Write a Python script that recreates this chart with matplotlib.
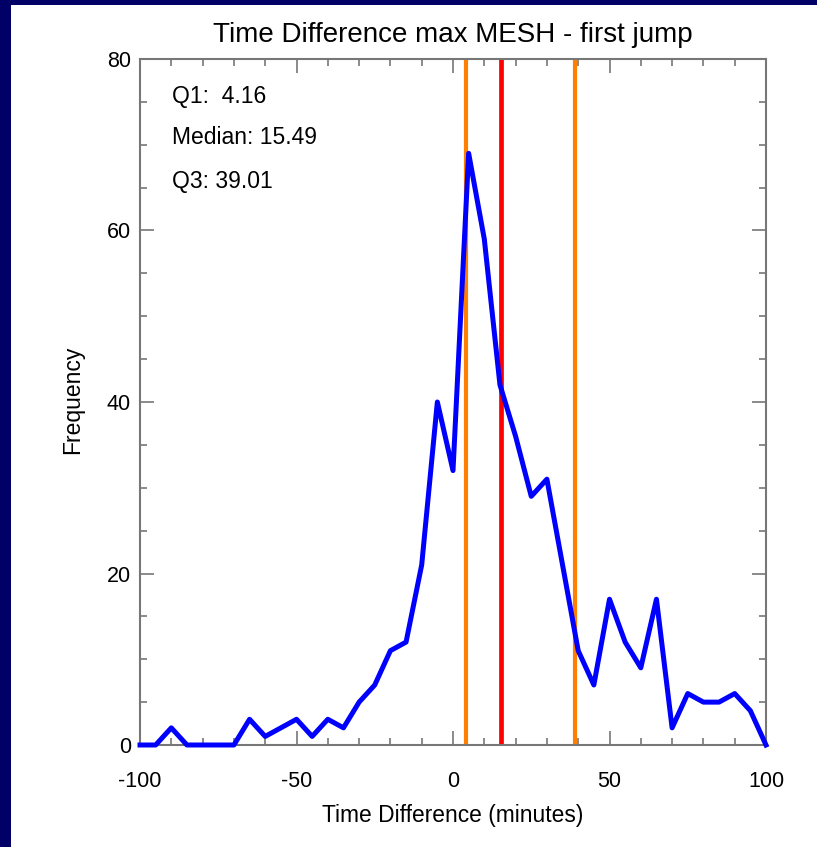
import numpy as np
import matplotlib
matplotlib.use("Agg")
import matplotlib.pyplot as plt
from matplotlib.patches import Rectangle

# histogram of time differences (minutes), 5 minute bins
time_diff = np.arange(-100, 101, 5)
frequency = [0, 0, 2, 0, 0, 0, 0, 3, 1, 2,
             3, 1, 3, 2, 5, 7, 11, 12, 21, 40,
             32, 69, 59, 42, 36, 29, 31, 21, 11, 7,
             17, 12, 9, 17, 2, 6, 5, 5, 6, 4, 0]

q1 = 4.16
median = 15.49
q3 = 39.01

plt.rcParams['font.family'] = ['Liberation Sans', 'DejaVu Sans']
plt.rcParams['axes.unicode_minus'] = False

W, H = 817, 847
fig = plt.figure(figsize=(W / 100, H / 100), dpi=100, facecolor='#000066')
# white panel inside the navy frame
fig.patches.append(Rectangle((11 / W, 0), 1, 1 - 5 / H, transform=fig.transFigure,
                             facecolor='white', edgecolor='none', zorder=-10))

ax = fig.add_axes([140 / W, 102 / H, 626 / W, 686 / H])
ax.plot(time_diff, frequency, color='#0000ff', lw=3.6, zorder=3, clip_on=False)
ax.axvline(q1, color='#ff8000', lw=3.0, zorder=2)
ax.axvline(q3, color='#ff8000', lw=3.0, zorder=2)
ax.axvline(median, color='#ff0000', lw=3.4, zorder=2)

ax.set_xlim(-100, 100)
ax.set_ylim(0, 80)
ax.set_xticks([-100, -50, 0, 50, 100])
ax.set_xticks(np.arange(-100, 101, 10), minor=True)
ax.set_yticks([0, 20, 40, 60, 80])
ax.set_yticks(np.arange(0, 81, 5), minor=True)
ax.tick_params(which='both', direction='in', top=True, right=True, color='#777777',
               width=1.2, labelsize=15.5)
ax.tick_params(axis='x', which='both', pad=19)
ax.tick_params(axis='y', which='both', pad=6.5)
ax.tick_params(which='major', length=10)
ax.tick_params(which='minor', length=5)
for s in ax.spines.values():
    s.set_color('#777777')
    s.set_linewidth(1.5)

fig.text(453 / W, 1 - 42 / H, 'Time Difference max MESH - first jump', fontsize=20,
         ha='center', va='baseline')
fig.text(453 / W, 1 - 822 / H, 'Time Difference (minutes)', fontsize=16.4,
         ha='center', va='baseline')
fig.text(73 / W, 1 - 400 / H, 'Frequency', fontsize=16.5, rotation=90,
         ha='center', va='center')

ax.text(0.051, 0.946, 'Q1:  %.2f' % q1, transform=ax.transAxes, fontsize=16.5, va='center')
ax.text(0.051, 0.886, 'Median: %.2f' % median, transform=ax.transAxes, fontsize=16.5, va='center')
ax.text(0.051, 0.822, 'Q3: %.2f' % q3, transform=ax.transAxes, fontsize=16.5, va='center')

fig.savefig('out.png', dpi=100, facecolor=fig.get_facecolor())
